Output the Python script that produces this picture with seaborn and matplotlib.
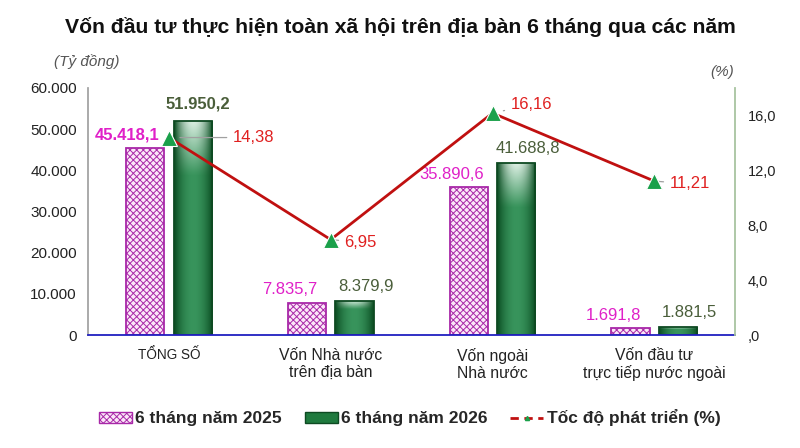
import matplotlib
matplotlib.use("Agg")
import matplotlib.pyplot as plt
from matplotlib.lines import Line2D
from matplotlib.patches import Patch
import numpy as np
import pandas as pd
import seaborn as sns

categories = ["TỔNG SỐ", "Vốn Nhà nước\ntrên địa bàn", "Vốn ngoài\nNhà nước",
              "Vốn đầu tư\ntrực tiếp nước ngoài"]
periods = ["6 tháng năm 2025", "6 tháng năm 2026"]
von_2025 = [45418.1, 7835.7, 35890.6, 1691.8]
von_2026 = [51950.2, 8379.9, 41688.8, 1881.5]
toc_do = [14.38, 6.95, 16.16, 11.21]
left_ticks = [0, 10000, 20000, 30000, 40000, 50000, 60000]
right_ticks = [0, 4, 8, 12, 16]

sns.set_theme(style="white")
plt.rcParams["font.family"] = ["Liberation Sans", "DejaVu Sans"]
plt.rcParams["hatch.linewidth"] = 0.7


def vn(v, dec=1):
    """Vietnamese number format: '.' thousands, ',' decimals."""
    s = f"{v:,.{dec}f}"
    return s.replace(",", "X").replace(".", ",").replace("X", ".")


df = pd.DataFrame({
    "cat": categories * 2,
    "period": [periods[0]] * 4 + [periods[1]] * 4,
    "value": von_2025 + von_2026,
})

fig = plt.figure(figsize=(8, 4.48), dpi=100)
ax = fig.add_axes([0.11, 0.252, 0.809, 0.552])

sns.barplot(data=df, x="cat", y="value", hue="period", ax=ax,
            palette=["#f6d2f2", "#1f7a3e"], width=0.59, gap=0.2,
            legend=False, zorder=2)

pink_bars = ax.patches[:4]
green_bars = ax.patches[4:8]
for p in pink_bars:
    p.set_facecolor("#fbe6f8")
    p.set_edgecolor("#a828a8")
    p.set_hatch("xxxxx")
    p.set_linewidth(1.3)

# green bars: gradient fill clipped to each bar
grad_x = np.abs(np.linspace(-1, 1, 40))
dark = np.array([0.04, 0.30, 0.13])
light = np.array([0.22, 0.58, 0.36])
for p in green_bars:
    p.set_facecolor("none")
    p.set_edgecolor("#0e4a22")
    p.set_linewidth(1.3)
    x0, w = p.get_x(), p.get_width()
    h = p.get_height()
    rows = 60
    img = np.zeros((rows, 40, 3))
    for r in range(rows):
        t = r / (rows - 1)
        top = light + (np.array([0.85, 0.93, 0.88]) - light) * max(0, 1 - t * 4)
        for c in range(40):
            img[r, c] = top * (1 - grad_x[c] ** 2) + dark * grad_x[c] ** 2
    im = ax.imshow(img, extent=[x0, x0 + w, 0, h], aspect="auto",
                   origin="upper", zorder=1.9, interpolation="bilinear")
    im.set_clip_path(p)

ax.set_xlim(-0.5, 3.5)
ax.set_ylim(0, 60000)
ax.set_yticks(left_ticks)
ax.set_yticklabels([vn(t, 0) for t in left_ticks], fontsize=11, color="#222222")
ax.set_xticks(range(4))
ax.set_xticklabels(categories, fontsize=11.3, color="#222222", linespacing=1.2)
ax.get_xticklabels()[0].set_fontsize(9.8)
ax.tick_params(axis="y", length=0, pad=8)
ax.tick_params(axis="x", length=0, pad=9)
ax.set_xlabel("")
ax.set_ylabel("")
ax.spines["top"].set_visible(False)
ax.spines["right"].set_visible(False)
ax.spines["left"].set_color("#a0a0a0")
ax.spines["bottom"].set_color("#2020c0")
ax.spines["bottom"].set_linewidth(1.3)

# bar value labels
for i, p in enumerate(pink_bars):
    ax.annotate(vn(von_2025[i]), (p.get_x() + p.get_width() / 2, p.get_height()),
                xytext=(-12 if i else -13, 4), textcoords="offset points",
                ha="center", va="bottom", fontsize=12, color="#e020c8",
                fontweight="bold" if i == 0 else "normal")
for i, p in enumerate(green_bars):
    ax.annotate(vn(von_2026[i]), (p.get_x() + p.get_width() / 2, p.get_height()),
                xytext=(8 if i else 4, 5 if i else 7), textcoords="offset points",
                ha="center", va="bottom", fontsize=12, color="#4a5e3a",
                fontweight="bold" if i == 0 else "normal")

# growth rate on secondary axis
ax2 = ax.twinx()
ax2.set_position(ax.get_position())
sns.lineplot(x=np.arange(4), y=toc_do, ax=ax2, color="#c01010", linewidth=2,
             marker="^", markersize=12, markerfacecolor="#1aa04a",
             markeredgecolor="white", markeredgewidth=0.8, zorder=5)
ax2.set_ylim(0, 18)
ax2.set_yticks(right_ticks)
ax2.set_yticklabels([",0" if t == 0 else f"{t},0" for t in right_ticks],
                    fontsize=10.5, color="#222222")
ax2.tick_params(axis="y", length=0, pad=9)
ax2.set_xlim(-0.5, 3.5)
for s in ["top", "left", "bottom"]:
    ax2.spines[s].set_visible(False)
ax2.spines["right"].set_color("#a8c4a0")
ax2.spines["right"].set_linewidth(1.3)

label_off = [(46, 0), (10, -2), (13, 6), (11, -2)]
for i, v in enumerate(toc_do):
    ax2.annotate(f"{v:.2f}".replace(".", ","), (i, v), xytext=label_off[i],
                 textcoords="offset points", ha="left", va="center",
                 fontsize=12, color="#e02020",
                 arrowprops=dict(arrowstyle="-", color="#a0a0a0", lw=0.9,
                                 shrinkA=2, shrinkB=8))

fig.text(0.5, 0.94, "Vốn đầu tư thực hiện toàn xã hội trên địa bàn 6 tháng qua các năm",
         ha="center", va="center", fontsize=15.2, fontweight="bold", color="#111111")
fig.text(0.067, 0.862, "(Tỷ đồng)", fontsize=11, style="italic", color="#555555",
         va="center")
fig.text(0.888, 0.839, "(%)", fontsize=11, style="italic", color="#555555",
         va="center")

handles = [
    Patch(facecolor="#fbe6f8", edgecolor="#a828a8", hatch="xxxxx"),
    Patch(facecolor="#1f7a3e", edgecolor="#0e4a22"),
    Line2D([0], [0], color="#c01010", lw=2, linestyle=(0, (3, 2)),
           marker="^", markersize=3, markerfacecolor="#1aa04a",
           markeredgecolor="#1aa04a"),
]
fig.legend(handles, ["6 tháng năm 2025", "6 tháng năm 2026", "Tốc độ phát triển (%)"],
           loc="center", bbox_to_anchor=(0.512, 0.067), ncol=3, frameon=False,
           prop={"weight": "bold", "size": 12.5},
           handlelength=1.9, handleheight=0.6, handletextpad=0.2,
           columnspacing=1.3)

fig.savefig("out.png", dpi=100)
